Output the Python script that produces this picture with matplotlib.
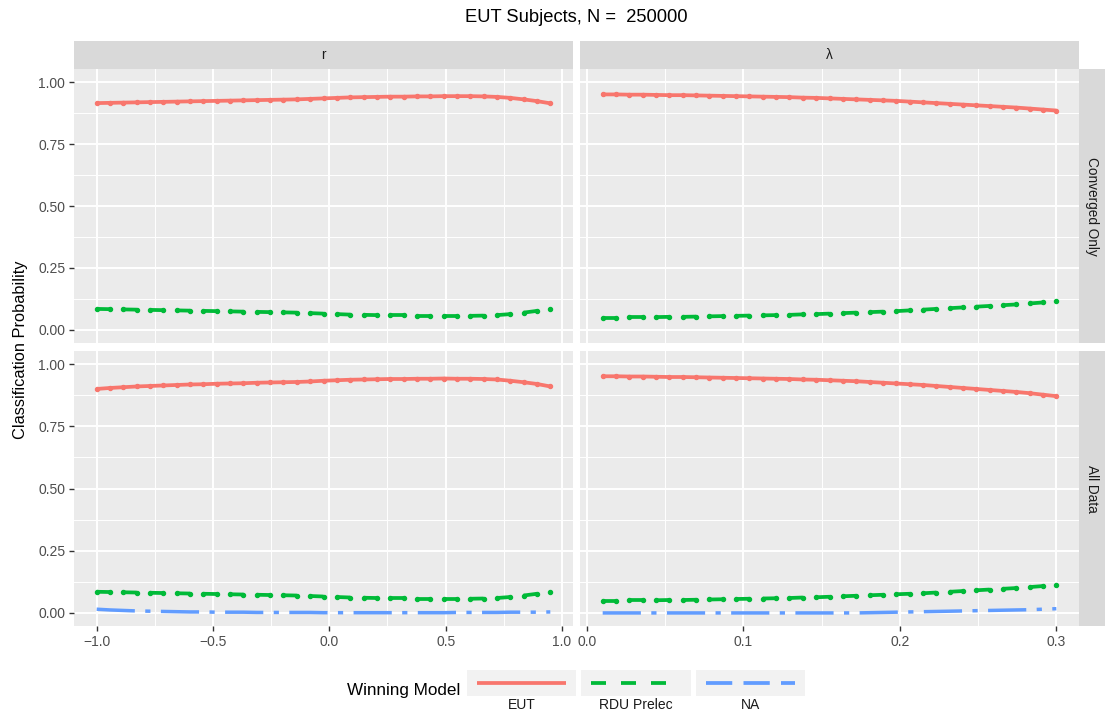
import numpy as np
import matplotlib.pyplot as plt

plt.rcParams['font.family'] = ['Liberation Sans', 'DejaVu Sans']

# parameter grids (35 evaluation points each)
r_grid = np.linspace(-1.0, 0.95, 35)
lam_grid = np.linspace(0.01, 0.30, 35)

# Converged Only, r
eut_conv_r = [0.915, 0.916, 0.917, 0.918, 0.919, 0.920, 0.921, 0.922, 0.923, 0.924,
              0.925, 0.926, 0.927, 0.928, 0.929, 0.930, 0.932, 0.934, 0.936, 0.938,
              0.939, 0.940, 0.941, 0.941, 0.942, 0.942, 0.943, 0.943, 0.943, 0.942,
              0.940, 0.936, 0.930, 0.923, 0.914]
rdu_conv_r = [0.085, 0.084, 0.083, 0.082, 0.081, 0.080, 0.079, 0.078, 0.077, 0.076,
              0.075, 0.074, 0.073, 0.072, 0.071, 0.070, 0.068, 0.066, 0.064, 0.062,
              0.061, 0.060, 0.059, 0.059, 0.058, 0.058, 0.057, 0.057, 0.057, 0.058,
              0.060, 0.064, 0.070, 0.077, 0.086]

# All Data, r
eut_all_r = [0.900, 0.904, 0.907, 0.910, 0.912, 0.914, 0.916, 0.918, 0.919, 0.921,
             0.922, 0.923, 0.925, 0.926, 0.927, 0.928, 0.930, 0.933, 0.935, 0.937,
             0.938, 0.939, 0.940, 0.940, 0.941, 0.941, 0.942, 0.941, 0.941, 0.940,
             0.938, 0.933, 0.927, 0.920, 0.910]
rdu_all_r = [0.085, 0.084, 0.083, 0.082, 0.081, 0.080, 0.079, 0.078, 0.077, 0.076,
             0.075, 0.074, 0.073, 0.072, 0.071, 0.070, 0.068, 0.066, 0.064, 0.062,
             0.061, 0.060, 0.059, 0.059, 0.058, 0.058, 0.057, 0.057, 0.057, 0.058,
             0.060, 0.064, 0.070, 0.077, 0.086]
na_all_r = [0.015, 0.012, 0.010, 0.008, 0.007, 0.006, 0.005, 0.004, 0.004, 0.003,
            0.003, 0.003, 0.002, 0.002, 0.002, 0.002, 0.002, 0.001, 0.001, 0.001,
            0.001, 0.001, 0.001, 0.001, 0.001, 0.001, 0.001, 0.002, 0.002, 0.002,
            0.002, 0.003, 0.003, 0.003, 0.004]

# Converged Only, lambda
eut_conv_lam = [0.950, 0.950, 0.949, 0.949, 0.948, 0.947, 0.947, 0.946, 0.945, 0.944,
                0.943, 0.942, 0.941, 0.940, 0.939, 0.937, 0.936, 0.934, 0.932, 0.930,
                0.928, 0.926, 0.924, 0.921, 0.918, 0.915, 0.912, 0.909, 0.906, 0.903,
                0.900, 0.897, 0.893, 0.889, 0.885]
rdu_conv_lam = [0.050, 0.050, 0.051, 0.051, 0.052, 0.053, 0.053, 0.054, 0.055, 0.056,
                0.057, 0.058, 0.059, 0.060, 0.061, 0.063, 0.064, 0.066, 0.068, 0.070,
                0.072, 0.074, 0.076, 0.079, 0.082, 0.085, 0.088, 0.091, 0.094, 0.097,
                0.100, 0.103, 0.107, 0.111, 0.115]

# All Data, lambda
eut_all_lam = [0.951, 0.951, 0.950, 0.950, 0.949, 0.948, 0.948, 0.947, 0.946, 0.945,
               0.944, 0.943, 0.942, 0.941, 0.940, 0.938, 0.937, 0.935, 0.933, 0.931,
               0.928, 0.925, 0.922, 0.919, 0.916, 0.912, 0.908, 0.904, 0.900, 0.896,
               0.892, 0.888, 0.883, 0.877, 0.871]
rdu_all_lam = [0.049, 0.049, 0.050, 0.050, 0.051, 0.052, 0.052, 0.053, 0.054, 0.055,
               0.056, 0.057, 0.058, 0.059, 0.060, 0.062, 0.063, 0.065, 0.067, 0.069,
               0.071, 0.073, 0.075, 0.077, 0.079, 0.082, 0.085, 0.088, 0.091, 0.094,
               0.097, 0.100, 0.104, 0.108, 0.112]
na_all_lam = [0.000, 0.000, 0.000, 0.000, 0.000, 0.000, 0.000, 0.000, 0.000, 0.000,
              0.000, 0.000, 0.000, 0.000, 0.000, 0.000, 0.000, 0.000, 0.000, 0.000,
              0.001, 0.002, 0.003, 0.004, 0.005, 0.006, 0.007, 0.008, 0.009, 0.010,
              0.011, 0.012, 0.013, 0.015, 0.017]

col_labels = ['r', 'λ']
row_labels = ['Converged Only', 'All Data']
model_labels = ['EUT', 'RDU Prelec', 'NA']
model_colors = ['#F8766D', '#00BA38', '#619CFF']

W, H = 1105, 714
LW = 2.7
MS = 2.9
TICK_FS = 10
STRIP_FS = 9.8


def box(x0, y0, x1, y1):
    return [x0 / W, 1 - y1 / H, (x1 - x0) / W, (y1 - y0) / H]


def style_panel(ax, col, row):
    ax.set_facecolor('#EBEBEB')
    for s in ax.spines.values():
        s.set_visible(False)
    ax.set_ylim(-0.0525, 1.0525)
    ax.set_yticks([0, 0.25, 0.5, 0.75, 1.0])
    ax.set_yticks([0.125, 0.375, 0.625, 0.875], minor=True)
    if col == 0:
        ax.set_xlim(-1.0975, 1.0475)
        ax.set_xticks([-1.0, -0.5, 0.0, 0.5, 1.0])
        ax.set_xticks([-0.75, -0.25, 0.25, 0.75], minor=True)
        ax.set_xticklabels(['\u22121.0', '\u22120.5', '0.0', '0.5', '1.0'])
    else:
        ax.set_xlim(-0.0045, 0.3145)
        ax.set_xticks([0.0, 0.1, 0.2, 0.3])
        ax.set_xticks([0.05, 0.15, 0.25], minor=True)
        ax.set_xticklabels(['0.0', '0.1', '0.2', '0.3'])
    ax.set_yticklabels(['0.00', '0.25', '0.50', '0.75', '1.00'])
    ax.grid(which='major', color='white', lw=1.4)
    ax.grid(which='minor', color='white', lw=0.7)
    ax.set_axisbelow(True)
    ax.tick_params(which='major', length=3.8, width=1.0, color='#333333',
                   labelsize=TICK_FS, labelcolor='#4D4D4D', pad=2.5)
    ax.tick_params(which='minor', length=0)
    ax.tick_params(axis='x', bottom=(row == 1), labelbottom=(row == 1))
    ax.tick_params(axis='y', left=(col == 0), labelleft=(col == 0))


def draw_eut(ax, x, y):
    ax.plot(x, y, color=model_colors[0], lw=LW, marker='o', ms=MS,
            solid_capstyle='butt')


def draw_rdu(ax, x, y):
    # dashed: every other interval is drawn
    for k in range(0, len(x), 2):
        ax.plot(x[k:k + 2], y[k:k + 2], color=model_colors[1], lw=LW,
                solid_capstyle='butt')
    ax.plot(x, y, ls='none', color=model_colors[1], marker='o', ms=MS)


def draw_na(ax, x, y):
    ax.plot(x, y, color=model_colors[2], lw=2.5, dashes=(11, 3, 1.5, 3),
            dash_capstyle='butt')


fig = plt.figure(figsize=(W / 100, H / 100), dpi=100)

cols_px = [(74, 573), (580, 1079)]
rows_px = [(69, 343), (351, 626)]

panels = {
    (0, 0): (r_grid, eut_conv_r, rdu_conv_r, None),
    (0, 1): (lam_grid, eut_conv_lam, rdu_conv_lam, None),
    (1, 0): (r_grid, eut_all_r, rdu_all_r, na_all_r),
    (1, 1): (lam_grid, eut_all_lam, rdu_all_lam, na_all_lam),
}

for (row, col), (x, eut, rdu, na) in panels.items():
    x0, x1 = cols_px[col]
    y0, y1 = rows_px[row]
    ax = fig.add_axes(box(x0, y0, x1, y1))
    style_panel(ax, col, row)
    if na is not None:
        draw_na(ax, x, na)
    draw_rdu(ax, x, rdu)
    draw_eut(ax, x, eut)

# facet strips on top
for col, lab in enumerate(col_labels):
    x0, x1 = cols_px[col]
    sax = fig.add_axes(box(x0, 41, x1, 69))
    sax.set_facecolor('#D9D9D9')
    sax.set_xticks([])
    sax.set_yticks([])
    for s in sax.spines.values():
        s.set_visible(False)
    sax.text(0.5, 0.5, lab, ha='center', va='center', fontsize=STRIP_FS,
             color='#1A1A1A', transform=sax.transAxes)

# facet strips on the right
for row, lab in enumerate(row_labels):
    y0, y1 = rows_px[row]
    sax = fig.add_axes(box(1079, y0, 1105, y1))
    sax.set_facecolor('#D9D9D9')
    sax.set_xticks([])
    sax.set_yticks([])
    for s in sax.spines.values():
        s.set_visible(False)
    sax.text(0.5, 0.5, lab, ha='center', va='center', fontsize=STRIP_FS,
             color='#1A1A1A', rotation=-90, transform=sax.transAxes)

fig.text(576 / W, 1 - 18 / H, 'EUT Subjects, N =  250000', ha='center',
         va='center', fontsize=13.2, color='black')
fig.text(20 / W, 1 - 350 / H, 'Classification Probability', ha='center',
         va='center', rotation=90, fontsize=11.8, color='black')

# legend at the bottom
fig.text(460 / W, 1 - 690 / H, 'Winning Model', ha='right', va='center',
         fontsize=12.3, color='black')
key_px = [(467, 576), (581, 691), (696, 805)]
key_dashes = [None, (4, 4), (7, 3)]
for (k0, k1), lab, c, d in zip(key_px, model_labels, model_colors, key_dashes):
    kax = fig.add_axes(box(k0, 670, k1, 696))
    kax.set_facecolor('#F2F2F2')
    kax.set_xlim(0, 1)
    kax.set_ylim(0, 1)
    kax.set_xticks([])
    kax.set_yticks([])
    for s in kax.spines.values():
        s.set_visible(False)
    if d is None:
        kax.plot([0.09, 0.91], [0.5, 0.5], color=c, lw=LW, solid_capstyle='butt')
    else:
        kax.plot([0.09, 0.91], [0.5, 0.5], color=c, lw=LW, dashes=d,
                 dash_capstyle='butt')
    fig.text((k0 + k1) / 2 / W, 1 - 705 / H, lab, ha='center', va='center',
             fontsize=10, color='#1A1A1A')

fig.savefig('out.png', dpi=100)
